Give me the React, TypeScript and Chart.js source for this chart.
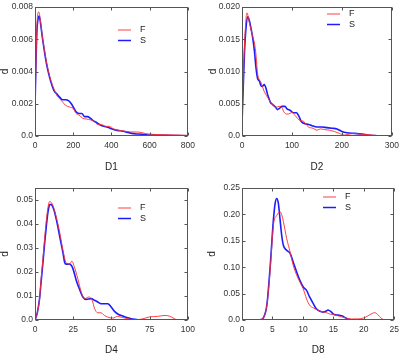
import React, { useEffect, useRef } from 'react';
import { Chart, registerables } from 'chart.js';
Chart.register(...registerables);

const FONT = '"Liberation Sans", Arial, Helvetica, sans-serif';
const seriesNames = ['F', 'S'];

// ---- Panel D1 ----
const d1xF = [0, 5, 10, 15, 20, 28, 38, 50, 60, 75, 90, 100, 115, 130, 145, 160, 180, 200, 215, 230, 250, 270, 290, 310, 330, 350, 370, 390, 410, 440, 470, 500, 530, 555, 580, 620, 680, 740, 800];
const d1yF = [0.0015, 0.0045, 0.0068, 0.0076, 0.0077, 0.0072, 0.0062, 0.0053, 0.0046, 0.0038, 0.0032, 0.0029, 0.0025, 0.0023, 0.0021, 0.0019, 0.0018, 0.0017, 0.0014, 0.0013, 0.0011, 0.00105, 0.001, 0.0009, 0.0007, 0.0007, 0.0006, 0.0006, 0.00045, 0.00035, 0.0003, 0.00025, 0.00025, 0.00022, 0.00015, 0.0001, 0.00008, 0.00006, 0.00004];
const d1xS = [0, 5, 10, 15, 22, 30, 40, 50, 60, 75, 90, 100, 115, 130, 145, 160, 175, 190, 200, 215, 230, 245, 260, 275, 290, 305, 320, 340, 360, 380, 400, 430, 460, 500, 540, 580, 620, 680, 740, 800];
const d1yS = [0.0018, 0.0045, 0.0065, 0.0072, 0.00745, 0.0069, 0.006, 0.0052, 0.0045, 0.0037, 0.0031, 0.0028, 0.0026, 0.0024, 0.00225, 0.00225, 0.0022, 0.002, 0.0018, 0.0015, 0.0014, 0.0014, 0.0012, 0.0012, 0.0011, 0.00095, 0.00085, 0.0007, 0.0006, 0.00055, 0.00045, 0.00035, 0.0003, 0.00018, 0.00012, 0.00008, 0.00006, 0.00004, 0.00003, 0.00002];
const d1XTicks = [0, 200, 400, 600, 800];
const d1XLabels = ['0', '200', '400', '600', '800'];
const d1YTicks = [0, 0.002, 0.004, 0.006, 0.008];
const d1YLabels = ['0.0', '0.002', '0.004', '0.006', '0.008'];

// ---- Panel D2 ----
const d2xF = [0, 2, 5, 9.8, 15, 21.5, 25, 28, 31, 38, 44, 51, 56, 61, 67, 74, 80, 84, 90, 96, 100, 106, 116, 123, 126, 133, 142, 150, 157, 165, 175, 185, 195, 205, 215, 225, 240, 255, 270, 285, 300];
const d2yF = [0.002, 0.0075, 0.0141, 0.0191, 0.0175, 0.0154, 0.0144, 0.0126, 0.0098, 0.0083, 0.007, 0.006, 0.0054, 0.0049, 0.0044, 0.0046, 0.0044, 0.0037, 0.0034, 0.0035, 0.0037, 0.0032, 0.0024, 0.0023, 0.002, 0.0014, 0.0012, 0.0009, 0.0011, 0.001, 0.0009, 0.0007, 0.0004, 0.00015, 0.0003, 0.0004, 0.00025, 0.0002, 0.00005, 0.00003, 0.00002];
const d2xS = [0, 2, 5, 8.5, 11.7, 15, 18, 21.5, 25, 28, 31, 35, 38, 41, 44.5, 48, 51, 54, 57, 61, 67, 71, 75, 80, 86, 90, 96, 103, 109, 113, 119, 126, 133, 140, 150, 160, 170, 180, 190, 200, 210, 225, 240, 255, 270, 285, 300];
const d2yS = [0.002, 0.0065, 0.013, 0.0172, 0.0185, 0.0178, 0.0167, 0.0152, 0.0131, 0.0106, 0.009, 0.0085, 0.0078, 0.0077, 0.008, 0.0074, 0.0065, 0.0058, 0.0052, 0.0049, 0.0045, 0.0041, 0.0043, 0.0046, 0.0046, 0.0042, 0.004, 0.0036, 0.0036, 0.0032, 0.0022, 0.0019, 0.0018, 0.0016, 0.0014, 0.0014, 0.0013, 0.0012, 0.0011, 0.0007, 0.0005, 0.0004, 0.0003, 0.00012, 0.00005, 0.00002, 0.00001];
const d2XTicks = [0, 100, 200, 300];
const d2XLabels = ['0', '100', '200', '300'];
const d2YTicks = [0, 0.005, 0.01, 0.015, 0.02];
const d2YLabels = ['0.0', '0.005', '0.010', '0.015', '0.020'];

// ---- Panel D4 ----
const d4xF = [0, 1.5, 3, 4, 5.2, 6.3, 7.4, 8.5, 9.6, 10.6, 11.7, 13.9, 16.1, 18.3, 20.4, 22.6, 24.1, 25.8, 28, 30.2, 32.4, 35.2, 37.4, 39, 41, 43.2, 45.4, 47.6, 50.9, 54, 56.3, 60, 65, 70, 75, 80, 85, 88, 91, 93];
const d4yF = [0, 0.003, 0.009, 0.017, 0.0255, 0.034, 0.0415, 0.047, 0.0494, 0.049, 0.0478, 0.0429, 0.0367, 0.029, 0.0239, 0.0233, 0.0245, 0.022, 0.0172, 0.0117, 0.0089, 0.0096, 0.0082, 0.0047, 0.003, 0.003, 0.0019, 0.0012, 0.0008, 0.0015, 0.0012, 0.0006, 0.0001, 0.0004, 0.0013, 0.0015, 0.0019, 0.0016, 0.0006, 0];
const d4xS = [0, 1.5, 3, 4, 5.2, 6.3, 7.4, 8.5, 9.6, 10.6, 11.7, 12.8, 13.9, 15, 16.1, 17.2, 18.3, 19.4, 20.4, 22.6, 23.7, 24.8, 27, 29, 31.3, 33.5, 36.7, 38.9, 41, 43, 45.4, 47.6, 49.8, 52, 55, 57.4, 60, 63, 65, 68];
const d4yS = [0, 0.003, 0.009, 0.016, 0.024, 0.032, 0.039, 0.045, 0.048, 0.0482, 0.047, 0.045, 0.042, 0.0387, 0.035, 0.0315, 0.028, 0.024, 0.0233, 0.0233, 0.0228, 0.0214, 0.0165, 0.013, 0.0096, 0.0086, 0.0089, 0.0082, 0.0075, 0.0068, 0.0068, 0.0068, 0.0054, 0.0036, 0.0022, 0.0017, 0.001, 0.0005, 0.0003, 0];
const d4XTicks = [0, 25, 50, 75, 100];
const d4XLabels = ['0', '25', '50', '75', '100'];
const d4YTicks = [0, 0.01, 0.02, 0.03, 0.04, 0.05];
const d4YLabels = ['0.0', '0.01', '0.02', '0.03', '0.04', '0.05'];

// ---- Panel D8 ----
const d8xF = [2.5, 3, 3.5, 4.08, 4.6, 5.16, 5.7, 6.25, 6.5, 6.8, 7.34, 7.9, 8.4, 8.97, 9.5, 10.05, 10.6, 11.1, 11.7, 12.2, 13, 13.85, 14.5, 15, 16, 17, 18, 19, 20, 20.7, 21.3, 21.8, 22.3, 22.8, 23.2, 23.5];
const d8yF = [0, 0.0005, 0.004, 0.028, 0.091, 0.18, 0.198, 0.205, 0.2, 0.186, 0.154, 0.129, 0.104, 0.085, 0.072, 0.059, 0.04, 0.028, 0.023, 0.02, 0.016, 0.014, 0.011, 0.0105, 0.007, 0.004, 0.002, 0.002, 0.004, 0.008, 0.012, 0.014, 0.01, 0.004, 0.001, 0];
const d8xS = [2.5, 3, 3.5, 4.08, 4.6, 5.16, 5.43, 5.7, 5.98, 6.25, 6.52, 6.8, 7.34, 7.9, 8.4, 8.97, 9.5, 10.05, 10.6, 11.1, 11.7, 12.2, 12.8, 13.3, 13.85, 14.1, 14.6, 15, 15.5, 16, 16.5, 17, 17.5, 18];
const d8yS = [0, 0.0005, 0.004, 0.028, 0.097, 0.19, 0.22, 0.23, 0.22, 0.19, 0.16, 0.141, 0.132, 0.126, 0.11, 0.091, 0.075, 0.0625, 0.056, 0.0436, 0.031, 0.0215, 0.0164, 0.015, 0.017, 0.019, 0.016, 0.011, 0.0095, 0.009, 0.0075, 0.004, 0.0015, 0];
const d8XTicks = [0, 5, 10, 15, 20, 25];
const d8XLabels = ['0', '5', '10', '15', '20', '25'];
const d8YTicks = [0, 0.05, 0.1, 0.15, 0.2, 0.25];
const d8YLabels = ['0.0', '0.05', '0.10', '0.15', '0.20', '0.25'];

const RED = 'rgba(255, 45, 45, 0.9)';
const BLUE = '#1c1cff';

type PanelDef = {
  xTitle: string;
  xF: number[]; yF: number[]; xS: number[]; yS: number[];
  xTicks: number[]; xLabels: string[]; yTicks: number[]; yLabels: string[];
  xMax: number; yMax: number;
  // layout (styling only)
  pos: { left: number; top: number; w: number; h: number };
  area: { l: number; t: number; r: number; b: number };
  yTitleC: number; xTitleC: number;
  legend: { x: number; y: number; dy: number; len: number; gap: number };
};

const panels: PanelDef[] = [
  {
    xTitle: 'D1', xF: d1xF, yF: d1yF, xS: d1xS, yS: d1yS,
    xTicks: d1XTicks, xLabels: d1XLabels, yTicks: d1YTicks, yLabels: d1YLabels,
    xMax: 800, yMax: 0.008,
    pos: { left: 0, top: 0, w: 200, h: 178 }, area: { l: 35, t: 5, r: 188, b: 136 },
    yTitleC: 5, xTitleC: 167, legend: { x: 118, y: 30, dy: 10.5, len: 13, gap: 22 },
  },
  {
    xTitle: 'D2', xF: d2xF, yF: d2yF, xS: d2xS, yS: d2yS,
    xTicks: d2XTicks, xLabels: d2XLabels, yTicks: d2YTicks, yLabels: d2YLabels,
    xMax: 300, yMax: 0.02,
    pos: { left: 200, top: 0, w: 204, h: 178 }, area: { l: 42, t: 5, r: 196, b: 136 },
    yTitleC: 13, xTitleC: 167, legend: { x: 127, y: 14, dy: 10.5, len: 13, gap: 22 },
  },
  {
    xTitle: 'D4', xF: d4xF, yF: d4yF, xS: d4xS, yS: d4yS,
    xTicks: d4XTicks, xLabels: d4XLabels, yTicks: d4YTicks, yLabels: d4YLabels,
    xMax: 100, yMax: 0.055,
    pos: { left: 0, top: 178, w: 200, h: 179 }, area: { l: 35, t: 10, r: 188, b: 142 },
    yTitleC: 5, xTitleC: 172, legend: { x: 118, y: 30, dy: 10.5, len: 13, gap: 22 },
  },
  {
    xTitle: 'D8', xF: d8xF, yF: d8yF, xS: d8xS, yS: d8yS,
    xTicks: d8XTicks, xLabels: d8XLabels, yTicks: d8YTicks, yLabels: d8YLabels,
    xMax: 25, yMax: 0.25,
    pos: { left: 200, top: 178, w: 204, h: 179 }, area: { l: 42, t: 10, r: 195, b: 142 },
    yTitleC: 12, xTitleC: 172, legend: { x: 123, y: 19, dy: 10.5, len: 13, gap: 22 },
  },
];

const decoPlugin = {
  id: 'deco',
  afterDraw(chart: any) {
    const o = chart.options.plugins.deco;
    const { ctx, chartArea: a, scales } = chart;
    ctx.save();
    ctx.strokeStyle = '#555';
    ctx.lineWidth = 1;
    const L = Math.round(a.left) + 0.5, R = Math.round(a.right) - 0.5;
    const T = Math.round(a.top) + 0.5, B = Math.round(a.bottom) - 0.5;
    ctx.strokeRect(L, T, R - L, B - T);
    ctx.beginPath();
    for (const v of o.xTicks) {
      const px = Math.round(scales.x.getPixelForValue(v)) + 0.5;
      ctx.moveTo(px, B); ctx.lineTo(px, B - 3);
      ctx.moveTo(px, T); ctx.lineTo(px, T + 3);
    }
    for (const v of o.yTicks) {
      const py = Math.round(scales.y.getPixelForValue(v)) + 0.5;
      ctx.moveTo(L, py); ctx.lineTo(L + 3, py);
      ctx.moveTo(R, py); ctx.lineTo(R - 3, py);
    }
    ctx.stroke();
    // legend
    const lg = o.legend;
    const colors = [RED, BLUE];
    ctx.font = `9px ${FONT}`;
    ctx.textBaseline = 'middle';
    ctx.textAlign = 'left';
    seriesNames.forEach((name, i) => {
      const y = lg.y + i * lg.dy;
      ctx.strokeStyle = colors[i];
      ctx.lineWidth = i === 0 ? 1 : 1.5;
      ctx.beginPath();
      ctx.moveTo(lg.x, y); ctx.lineTo(lg.x + lg.len, y);
      ctx.stroke();
      ctx.fillStyle = '#222';
      ctx.fillText(name, lg.x + lg.gap, y);
    });
    ctx.restore();
  },
};

function PanelChart({ p }: { p: PanelDef }) {
  const ref = useRef<HTMLCanvasElement | null>(null);
  useEffect(() => {
    if (!ref.current) return;
    const tickFont = { family: FONT, size: 8.5 };
    const titleFont = { family: FONT, size: 10 };
    const chart = new Chart(ref.current, {
      type: 'line',
      data: {
        datasets: [
          {
            label: seriesNames[0],
            data: p.xF.map((x, i) => ({ x, y: p.yF[i] })),
            borderColor: RED, borderWidth: 1, pointRadius: 0,
            cubicInterpolationMode: 'monotone', fill: false,
          },
          {
            label: seriesNames[1],
            data: p.xS.map((x, i) => ({ x, y: p.yS[i] })),
            borderColor: BLUE, borderWidth: 1.6, pointRadius: 0,
            cubicInterpolationMode: 'monotone', fill: false,
          },
        ],
      },
      options: {
        animation: false,
        responsive: false,
        layout: { padding: { left: 0, top: p.area.t, right: p.pos.w - p.area.r, bottom: 0 } },
        plugins: {
          legend: { display: false },
          tooltip: { enabled: false },
          deco: { xTicks: p.xTicks, yTicks: p.yTicks, legend: p.legend },
        } as any,
        scales: {
          x: {
            type: 'linear', min: 0, max: p.xMax,
            afterBuildTicks: (s: any) => { s.ticks = p.xTicks.map((v) => ({ value: v })); },
            afterFit: (s: any) => { s.height = p.pos.h - p.area.b; },
            ticks: {
              callback: (_v: any, i: number) => p.xLabels[i],
              font: tickFont, color: '#333', padding: 5, maxRotation: 0, autoSkip: false,
            },
            grid: { display: false, drawTicks: false },
            border: { display: false },
            title: {
              display: true, text: p.xTitle, font: titleFont, color: '#222',
              padding: { top: 0, bottom: p.pos.h - p.xTitleC - 6 },
            },
          },
          y: {
            type: 'linear', min: 0, max: p.yMax,
            afterBuildTicks: (s: any) => { s.ticks = p.yTicks.map((v) => ({ value: v })); },
            afterFit: (s: any) => { s.width = p.area.l; },
            ticks: {
              callback: (_v: any, i: number) => p.yLabels[i],
              font: tickFont, color: '#333', padding: 2, autoSkip: false,
            },
            grid: { display: false, drawTicks: false },
            border: { display: false },
            title: {
              display: true, text: 'd', font: titleFont, color: '#222',
              padding: { top: p.yTitleC - 6, bottom: 0 },
            },
          },
        },
      } as any,
      plugins: [decoPlugin],
    });
    return () => chart.destroy();
  }, [p]);
  return (
    <canvas
      ref={ref}
      width={p.pos.w}
      height={p.pos.h}
      style={{ position: 'absolute', left: p.pos.left, top: p.pos.top, width: p.pos.w, height: p.pos.h }}
    />
  );
}

export default function App() {
  return (
    <div style={{ position: 'absolute', left: 0, top: 0, width: 404, height: 357, background: '#fff' }}>
      {panels.map((p) => (
        <PanelChart key={p.xTitle} p={p} />
      ))}
    </div>
  );
}
